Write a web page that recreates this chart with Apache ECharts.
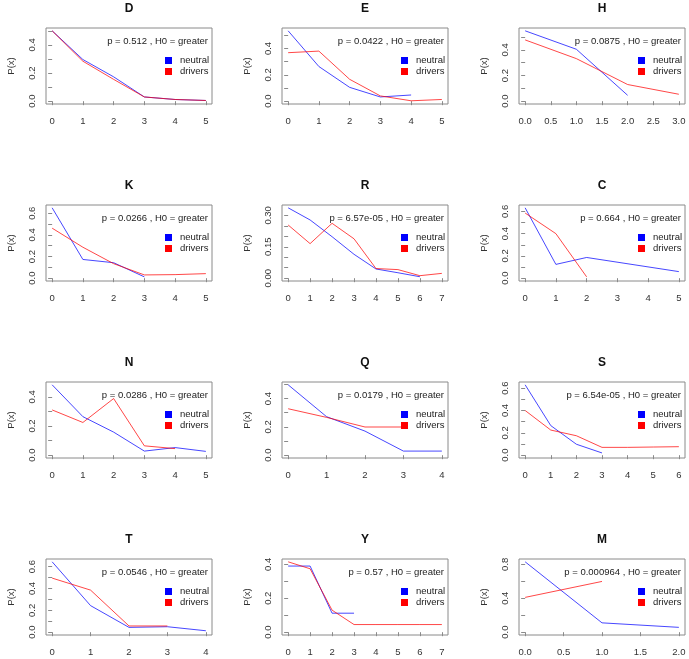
<!DOCTYPE html>
<html><head><meta charset="utf-8">
<script src="https://cdn.jsdelivr.net/npm/echarts@6/dist/echarts.min.js"></script>
<style>html,body{margin:0;padding:0;background:#fff}#c{width:689px;height:659px}</style>
</head><body><div id="c"></div>
<script>
const panelNames = ['D','E','H','K','R','C','N','Q','S','T','Y','M'];
const pTexts = ['p = 0.512 , H0 = greater','p = 0.0422 , H0 = greater','p = 0.0875 , H0 = greater',
  'p = 0.0266 , H0 = greater','p = 6.57e-05 , H0 = greater','p = 0.664 , H0 = greater',
  'p = 0.0286 , H0 = greater','p = 0.0179 , H0 = greater','p = 6.54e-05 , H0 = greater',
  'p = 0.0546 , H0 = greater','p = 0.57 , H0 = greater','p = 0.000964 , H0 = greater'];
const seriesNames = ['neutral','drivers'];

// values at x = 0, 1, 2, ...
const neutralD = [0.500, 0.296, 0.173, 0.030, 0.012, 0.005];
const driversD = [0.500, 0.284, 0.155, 0.030, 0.012, 0.005];
const neutralE = [0.534, 0.263, 0.105, 0.032, 0.047];
const driversE = [0.368, 0.380, 0.166, 0.040, 0.003, 0.013];
const neutralH = [0.549, 0.405, 0.046];
const driversH = [0.478, 0.332, 0.130, 0.054];
const neutralK = [0.650, 0.173, 0.143, 0.012];
const driversK = [0.462, 0.286, 0.134, 0.030, 0.033, 0.042];
const neutralR = [0.336, 0.278, 0.198, 0.114, 0.044, 0.026, 0.007];
const driversR = [0.254, 0.165, 0.262, 0.188, 0.046, 0.041, 0.012, 0.023];
const neutralC = [0.632, 0.124, 0.186, null, null, 0.059];
const driversC = [0.585, 0.400, 0.012];
const neutralN = [0.482, 0.264, 0.158, 0.028, 0.052, 0.026];
const driversN = [0.310, 0.224, 0.388, 0.064, 0.045];
const neutralQ = [0.497, 0.272, 0.170, 0.029, 0.029];
const driversQ = [0.328, 0.267, 0.199, 0.199];
const neutralS = [0.630, 0.265, 0.098, 0.020];
const driversS = [0.400, 0.225, 0.174, 0.070, 0.070, 0.073, 0.076];
const neutralT = [0.644, 0.243, 0.044, 0.050, 0.013];
const driversT = [0.495, 0.385, 0.057, 0.057];
const neutralY = [0.390, 0.390, 0.112, 0.112];
const driversY = [0.415, 0.374, 0.130, 0.045, 0.045, 0.045, 0.045, 0.045];
const neutralM = [0.829, 0.110, 0.057];
const driversM = [0.410, 0.598];

// tick labels
const xLabels05 = ['0','1','2','3','4','5'];
const xLabels04 = ['0','1','2','3','4'];
const xLabels06 = ['0','1','2','3','4','5','6'];
const xLabels07 = ['0','1','2','3','4','5','6','7'];
const xLabelsH = ['0.0','0.5','1.0','1.5','2.0','2.5','3.0'];
const xLabelsM = ['0.0','0.5','1.0','1.5','2.0'];
const yTicks05 = [0,0.1,0.2,0.3,0.4,0.5];
const yTicks04 = [0,0.1,0.2,0.3,0.4];
const yTicks06 = [0,0.1,0.2,0.3,0.4,0.5,0.6];
const yTicksR = [0,0.05,0.1,0.15,0.2,0.25,0.3,0.35];
const yTicksM = [0,0.2,0.4,0.6,0.8];
const yLabels04 = ['0.0','0.2','0.4'];
const yLabels06 = ['0.0','0.2','0.4','0.6'];
const yLabelsR = ['0.00','0.15','0.30'];
const yLabelsM = ['0.0','0.4','0.8'];

const neutralAll = [neutralD,neutralE,neutralH,neutralK,neutralR,neutralC,neutralN,neutralQ,neutralS,neutralT,neutralY,neutralM];
const driversAll = [driversD,driversE,driversH,driversK,driversR,driversC,driversN,driversQ,driversS,driversT,driversY,driversM];
const xLabelsAll = [xLabels05,xLabels05,xLabelsH,xLabels05,xLabels07,xLabels05,xLabels05,xLabels04,xLabels06,xLabels04,xLabels07,xLabelsM];
const yTicksAll = [yTicks05,yTicks05,yTicks05,yTicks06,yTicksR,yTicks06,yTicks04,yTicks05,yTicks06,yTicks06,yTicks04,yTicksM];
const yLabelsAll = [yLabels04,yLabels04,yLabels04,yLabels06,yLabelsR,yLabels06,yLabels04,yLabels04,yLabels06,yLabels06,yLabels04,yLabelsM];

const FONT = '"Liberation Sans", Arial, Helvetica, sans-serif';
const colLeft = [46, 282, 519], boxW = 166, boxH = 76, rowTop0 = 28, rowStep = 177;
const lineBlue = 'rgba(0,0,255,0.72)', lineRed = 'rgba(255,0,0,0.72)';

const grid = [], xAxis = [], yAxis = [], series = [], title = [], legend = [], graphic = [];
function toPairs(arr){ const out=[]; arr.forEach((v,i)=>{ if(v!==null) out.push([i,v]); }); return out; }
function labelFmt(labels){ return v => { for (const s of labels) if (Math.abs(Number(s)-v) < 1e-9) return s; return ''; }; }

panelNames.forEach((name, i) => {
  const r = Math.floor(i/3), c = i%3;
  const left = colLeft[c], top = rowTop0 + rowStep*r;
  const nd = neutralAll[i], dd = driversAll[i];
  const xmax = Math.max(nd.length, dd.length) - 1, xmin = 0;
  const ys = nd.concat(dd).filter(v => v !== null);
  const ymin = 0, ymax = Math.max(...ys);
  const xr = xmax - xmin, yr = ymax - ymin;
  grid.push({left, top, width: boxW, height: boxH, show: true, borderColor: '#8a8a8a', borderWidth: 1, backgroundColor: 'transparent'});
  const xVals = xLabelsAll[i].map(Number);
  xAxis.push({type: 'value', gridIndex: i, min: xmin - 0.04*xr, max: xmax + 0.04*xr,
    axisLine: {show: false}, splitLine: {show: false},
    axisTick: {show: true, customValues: xVals, length: 4, lineStyle: {color: '#8a8a8a'}},
    axisLabel: {customValues: xVals, formatter: labelFmt(xLabelsAll[i]), fontSize: 9.5, color: '#333', margin: 12, fontFamily: FONT, hideOverlap: false}});
  yAxis.push({type: 'value', gridIndex: i, min: ymin - 0.04*yr, max: ymax + 0.04*yr,
    name: 'P(x)', nameLocation: 'middle', nameGap: 30, nameTextStyle: {fontSize: 9.5, color: '#333', fontFamily: FONT},
    axisLine: {show: false}, splitLine: {show: false},
    axisTick: {show: true, customValues: yTicksAll[i], length: 4, lineStyle: {color: '#8a8a8a'}},
    axisLabel: {customValues: yLabelsAll[i].map(Number), formatter: labelFmt(yLabelsAll[i]), rotate: 90, fontSize: 9.5, color: '#333', margin: 9, fontFamily: FONT, hideOverlap: false}});
  series.push({name: seriesNames[0], type: 'line', xAxisIndex: i, yAxisIndex: i, data: toPairs(nd), symbol: 'none', showSymbol: false,
    lineStyle: {width: 1, color: lineBlue}, itemStyle: {color: '#0000ff'}, z: 2, animation: false});
  series.push({name: seriesNames[1], type: 'line', xAxisIndex: i, yAxisIndex: i, data: toPairs(dd), symbol: 'none', showSymbol: false,
    lineStyle: {width: 1, color: lineRed}, itemStyle: {color: '#ff0000'}, z: 3, animation: false});
  title.push({text: name, left: left + boxW/2, top: top - 25, textAlign: 'center', padding: 0,
    textStyle: {fontSize: 12, fontWeight: 'bold', color: '#111', fontFamily: FONT}});
  legend.push({orient: 'vertical', left: left + boxW - 47, top: top + 27, padding: 0, itemGap: 0, itemWidth: 7, itemHeight: 7,
    icon: 'rect', selectedMode: false,
    textStyle: {fontSize: 9.5, color: '#222', fontFamily: FONT, lineHeight: 11, padding: [0,0,0,3]},
    data: [{name: seriesNames[0], itemStyle: {color: '#0000ff'}}, {name: seriesNames[1], itemStyle: {color: '#ff0000'}}]});
  graphic.push({type: 'text', x: left + boxW - 4, y: top + 13, z: 10,
    style: {text: pTexts[i], align: 'right', verticalAlign: 'middle', fontSize: 9.5, fill: '#222', fontFamily: FONT}});
});

const chart = echarts.init(document.getElementById('c'), null, {renderer: 'canvas'});
chart.setOption({backgroundColor: '#fff', animation: false, grid, xAxis, yAxis, series, title, legend, graphic});
</script></body></html>
